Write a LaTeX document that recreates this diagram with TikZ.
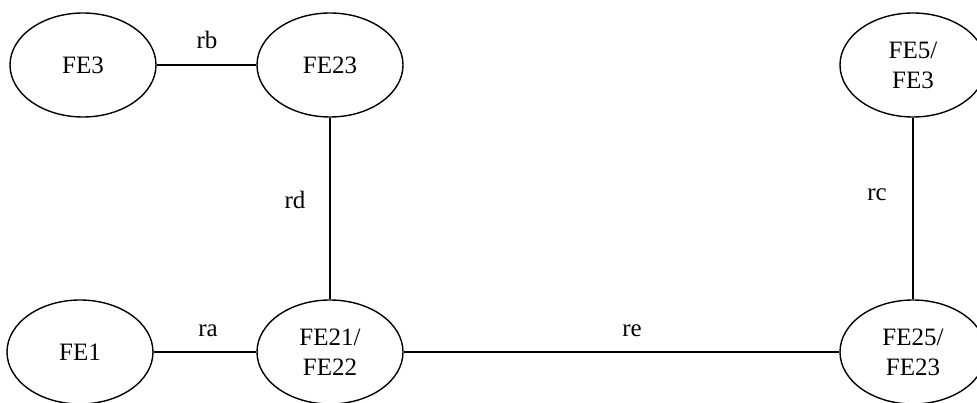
\documentclass[tikz,border=0pt]{standalone}
\usepackage{fontspec}
\setmainfont{Liberation Serif}
\usepackage{tikz}
\usetikzlibrary{shapes.geometric}

\tikzset{
  fe/.style={draw, ellipse, line width=1.4pt, minimum width=146pt, minimum height=104pt, inner sep=0pt, align=center, font=\fontsize{25}{30}\selectfont},
  lbl/.style={inner sep=0pt, font=\fontsize{25}{30}\selectfont},
  link/.style={line width=1.4pt}
}

\begin{document}
\begin{tikzpicture}[x=1pt,y=-1pt]
\useasboundingbox (0,0) rectangle (977,403);
\node[fe] (fe3) at (83,65) {FE3};
\node[fe] (fe23) at (330,65) {FE23};
\node[fe] (fe5) at (913,65) {FE5/\\FE3};
\node[fe] (fe1) at (80,352) {FE1};
\node[fe] (fe21) at (330,352) {FE21/\\FE22};
\node[fe] (fe25) at (913,352) {FE25/\\FE23};
\draw[link] (fe3) -- (fe23);
\draw[link] (fe23) -- (fe21);
\draw[link] (fe1) -- (fe21);
\draw[link] (fe21) -- (fe25);
\draw[link] (fe5) -- (fe25);
\node[lbl] (rb) at (207,40) {rb};
\node[lbl] (rd) at (295,200) {rd};
\node[lbl] (ra) at (208,331) {ra};
\node[lbl] (re) at (632,331) {re};
\node[lbl] (rc) at (877,195) {rc};
\end{tikzpicture}
\end{document}
